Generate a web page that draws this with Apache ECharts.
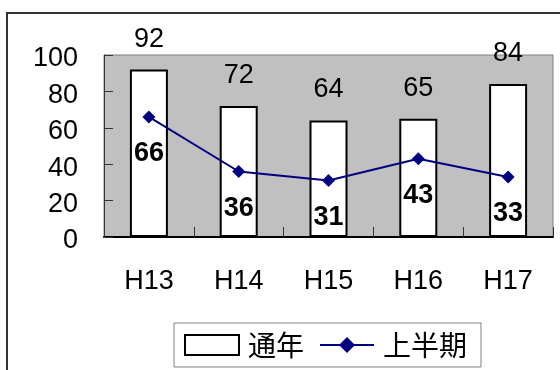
<!DOCTYPE html>
<html>
<head>
<meta charset="utf-8">
<script src="https://cdn.jsdelivr.net/npm/echarts@6/dist/echarts.min.js"></script>
<style>
  html, body { margin: 0; padding: 0; background: #fff; }
  #chart { width: 560px; height: 370px; }
</style>
</head>
<body>
<div id="chart"></div>
<script>
// Fiscal periods and counts: full year vs. first half
const categories = ['H13', 'H14', 'H15', 'H16', 'H17'];
const fullYear = [92, 72, 64, 65, 84];
const firstHalf = [66, 36, 31, 43, 33];
const seriesNames = ['通年', '上半期'];
const yTicks = { min: 0, max: 100, interval: 20 };

const latin = '"Liberation Sans", Arial, sans-serif';
const cjk = '"Noto Sans CJK JP", "Liberation Sans", sans-serif';

const chart = echarts.init(document.getElementById('chart'));
chart.setOption({
  animation: false,
  backgroundColor: '#fff',
  graphic: [{
    type: 'rect',
    z: -10,
    shape: { x: 7, y: 13, width: 620, height: 420 },
    style: { fill: 'none', stroke: '#333', lineWidth: 2 }
  }],
  grid: {
    left: 104, top: 55, right: 7, bottom: 133,
    show: true,
    backgroundColor: '#C0C0C0',
    borderColor: '#808080',
    borderWidth: 1
  },
  legend: {
    left: 174, top: 323,
    padding: [8, 14, 8, 10],
    backgroundColor: '#fff',
    borderColor: '#808080',
    borderWidth: 1,
    borderRadius: 0,
    itemWidth: 54, itemHeight: 20, itemGap: 15,
    textStyle: { fontSize: 28, fontFamily: cjk, color: '#000', padding: [0, 0, 0, 4] },
    data: [
      { name: seriesNames[0], icon: 'rect' },
      { name: seriesNames[1] }
    ]
  },
  xAxis: {
    type: 'category',
    data: categories,
    axisLine: { lineStyle: { color: '#000', width: 2 } },
    axisTick: { show: true, inside: true, length: 10, lineStyle: { color: '#333' } },
    axisLabel: { fontSize: 27, fontFamily: latin, color: '#000', margin: 31 },
    splitLine: { show: false }
  },
  yAxis: {
    type: 'value',
    min: yTicks.min, max: yTicks.max, interval: yTicks.interval,
    axisLine: { show: true, lineStyle: { color: '#333', width: 1 } },
    axisTick: { show: true, inside: true, length: 9, lineStyle: { color: '#333' } },
    axisLabel: {
      margin: 26,
      formatter: '{v|{value}}',
      rich: {
        v: { fontSize: 27, fontFamily: latin, color: '#000', padding: [8, 0, 0, 0] }
      }
    },
    splitLine: { show: false }
  },
  series: [
    {
      name: seriesNames[0],
      type: 'bar',
      data: fullYear,
      barWidth: 38,
      itemStyle: { color: '#fff', borderColor: '#000', borderWidth: 2 },
      label: {
        show: true, position: 'top', distance: 17,
        fontSize: 27, fontFamily: latin, color: '#000'
      }
    },
    {
      name: seriesNames[1],
      type: 'line',
      data: firstHalf,
      symbol: 'diamond',
      symbolSize: 13,
      lineStyle: { color: '#000080', width: 2 },
      itemStyle: { color: '#000080' },
      label: {
        show: true, position: 'bottom', distance: 17,
        fontSize: 27, fontWeight: 'bold', fontFamily: latin, color: '#000'
      }
    }
  ]
});
</script>
</body>
</html>
